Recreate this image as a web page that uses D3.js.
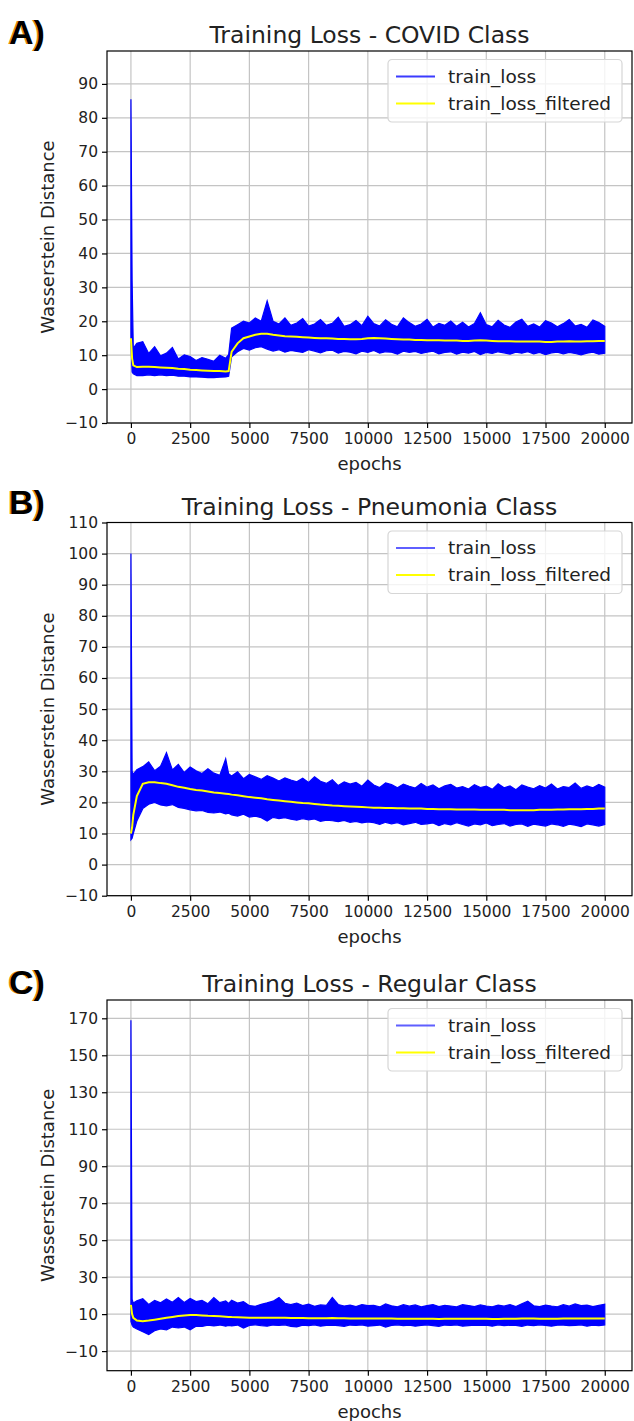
<!DOCTYPE html>
<html>
<head>
<meta charset="utf-8">
<script src="https://cdn.jsdelivr.net/npm/d3@7"></script>
<style>
  body { margin: 0; background: #fff; }
  text { font-family: "DejaVu Sans", sans-serif; fill: #222; }
</style>
</head>
<body>
<svg id="chart"></svg>
<script>
// sampled epochs (envelope of the noisy loss + filtered value at each)
const epochs = [0, 50, 100, 250, 500, 750, 1000, 1250, 1500, 1750,
  2000, 2250, 2500, 2750, 3000, 3250, 3500, 3750, 4000, 4125,
  4250, 4500, 4750, 5000, 5250, 5500, 5750, 6000, 6250, 6500,
  6750, 7000, 7250, 7500, 7750, 8000, 8250, 8500, 8750, 9000,
  9250, 9500, 9750, 10000, 10250, 10500, 10750, 11000, 11250, 11500,
  11750, 12000, 12250, 12500, 12750, 13000, 13250, 13500, 13750, 14000,
  14250, 14500, 14750, 15000, 15250, 15500, 15750, 16000, 16250, 16500,
  16750, 17000, 17250, 17500, 17750, 18000, 18250, 18500, 18750, 19000,
  19250, 19500, 19750, 20000];

const covidUpper = [85.5, 32, 12, 13.5, 14, 10.5, 12.5, 9.8, 10.6, 12.3,
  8.9, 10.1, 9.6, 8.4, 9.3, 8.8, 8.2, 10, 9.1, 10.2,
  18, 19, 20, 19.5, 21, 20, 26, 20, 19.2, 21,
  18.8, 19.5, 20.8, 18.6, 19.2, 20.5, 18.8, 19.4, 21.2, 18.5,
  19, 20.2, 18.7, 21.5, 19.3, 18.6, 20.4, 19.1, 18.4, 21,
  19.6, 18.5, 19.2, 20.6, 18.3, 19.4, 18.8, 20.1, 18.5, 19.7,
  18.3, 19.3, 22.5, 19, 18.4, 20.3, 18.9, 18.2, 19.8, 20.6,
  18.5, 19.2, 18.3, 20.2, 19.5, 18.4, 19.3, 20.5, 18.6, 19.1,
  18.2, 20.4, 19.6, 18.5];
const covidLower = [14, 5, 4.5, 4, 4, 4.2, 4, 4.2, 4, 4.1,
  3.8, 3.8, 3.6, 3.6, 3.5, 3.4, 3.4, 3.5, 3.6, 3.8,
  9.5, 11, 12, 11.5, 12.2, 12.5, 11.8, 11.2, 11.6, 10.9,
  11.4, 11.1, 10.8, 11.6, 11.2, 10.7, 11.3, 11.5, 10.6, 11.1,
  10.9, 10.4, 11.2, 10.8, 11.4, 10.6, 11, 10.9, 10.3, 11.2,
  10.8, 11.1, 10.5, 10.9, 11.2, 10.4, 10.8, 11, 10.3, 10.9,
  10.6, 11.1, 10.2, 10.8, 10.5, 11, 10.7, 10.3, 10.9, 10.6,
  11, 10.4, 10.8, 10.2, 10.7, 10.9, 10.4, 10.8, 10.5, 10.1,
  10.6, 10.9, 10.3, 10.6];
const covidFiltered = [15, 9, 7, 6.5, 6.6, 6.6, 6.5, 6.4, 6.3, 6.2,
  6.0, 5.9, 5.7, 5.6, 5.5, 5.4, 5.3, 5.3, 5.2, 5.3,
  11, 13.5, 15, 15.5, 16, 16.3, 16.3, 16, 15.8, 15.6,
  15.5, 15.4, 15.3, 15.2, 15.1, 15, 15, 14.9, 14.8, 14.8,
  14.7, 14.7, 14.8, 15, 15.1, 15, 14.9, 14.8, 14.7, 14.6,
  14.6, 14.5, 14.5, 14.4, 14.4, 14.4, 14.3, 14.3, 14.3, 14.2,
  14.2, 14.3, 14.4, 14.3, 14.2, 14.1, 14.1, 14.1, 14.0, 14.0,
  14.0, 14.0, 14.0, 13.9, 13.9, 14.0, 14.0, 14.1, 14.0, 14.0,
  14.1, 14.1, 14.2, 14.2];

const pneuUpper = [100, 30, 29, 30.5, 31.5, 33, 30.2, 31.6, 36, 30.4,
  32.2, 29.6, 31.4, 30.2, 29.3, 30.8, 29.4, 28.7, 34, 29.2,
  28.5, 29.8, 27.6, 29, 28.2, 27.4, 28.6, 27.8, 26.9, 27.9,
  27.2, 26.6, 27.8, 26.4, 28.2, 26.8, 26.1, 27.3, 25.4, 26.6,
  25.9, 26.4, 25.2, 27.2, 25.6, 24.8, 26.3, 25.7, 24.7, 25.9,
  25.2, 24.6, 26.1, 24.9, 25.6, 24.4, 25.3, 25.8, 24.6, 25.1,
  24.3, 25.7, 24.8, 25.2, 24.2, 26, 24.7, 25.3, 24.1, 25.6,
  24.9, 24.4, 25.4, 24.6, 25.9, 24.3, 25.1, 24.8, 26.2, 24.5,
  25.3, 24.7, 25.8, 24.9];
const pneuLower = [8, 8.5, 10, 14, 18, 19.4, 20, 19.2, 18.9, 19.3,
  18.4, 18.1, 17.6, 17.3, 17.4, 16.8, 16.6, 16.9, 16.3, 16.5,
  16, 15.6, 16.2, 15.3, 15.6, 15.1, 14, 15.2, 14.8, 15.1,
  14.6, 14.3, 14.8, 14.4, 14.7, 13.9, 14.3, 14.1, 13.8, 14.2,
  13.6, 13.9, 13.4, 13.7, 13.5, 12.9, 13.6, 13.1, 13.5, 12.8,
  13.2, 13.6, 12.9, 13.1, 13.4, 12.5, 13.2, 12.8, 13.5, 12.9,
  12.4, 13.1, 12.8, 13.4, 12.5, 12.9, 13.2, 12.4, 12.9, 13.1,
  12.3, 13, 12.7, 12.4, 13.1, 12.8, 12.3, 13, 12.7, 12.2,
  13.1, 12.8, 12.4, 12.9];
const pneuFiltered = [10, 12, 16, 22, 26, 26.5, 26.5, 26.2, 26, 25.5,
  25, 24.7, 24.3, 24, 23.8, 23.5, 23.2, 23, 22.8, 22.7,
  22.5, 22.3, 22, 21.7, 21.5, 21.3, 21, 20.8, 20.6, 20.4,
  20.2, 20, 19.8, 19.7, 19.5, 19.3, 19.2, 19, 18.9, 18.8,
  18.7, 18.6, 18.5, 18.4, 18.3, 18.3, 18.2, 18.2, 18.1, 18.1,
  18, 18, 18, 17.9, 17.9, 17.8, 17.8, 17.8, 17.7, 17.7,
  17.7, 17.7, 17.6, 17.6, 17.6, 17.6, 17.6, 17.5, 17.5, 17.5,
  17.5, 17.5, 17.6, 17.6, 17.6, 17.7, 17.7, 17.8, 17.8, 17.8,
  17.9, 17.9, 18, 18];

const regularUpper = [169, 18, 16, 17.2, 18.3, 15.2, 17.4, 16.1, 18.2, 16.4,
  19, 16.3, 18.5, 16.8, 17.4, 15.6, 18.9, 16.2, 17.1, 15.8,
  17.5, 16, 16.8, 14.6, 14.2, 15.3, 16.1, 17, 19, 15.9,
  15.1, 16, 14.6, 15.4, 14.2, 15, 14.7, 19, 15.2, 14.4,
  14.9, 14.1, 15.2, 14.6, 14.8, 13.9, 15.5, 14.5, 14, 15.1,
  14.3, 15, 13.9, 14.6, 15.2, 14.1, 14.8, 14.4, 13.9, 15.1,
  14.6, 14.1, 15, 14.4, 14, 14.9, 14.3, 15.2, 14.1, 15.6,
  17, 14.5, 14.1, 14.9, 14.4, 14, 15.1, 14.3, 15.5, 14.6,
  14.9, 14.1, 14.7, 15.3];
const regularLower = [6, 4, 3, 2, 0.5, -1, 1, 2, 1.5, 3,
  2.5, 3, 1.5, 3.5, 3.3, 4, 3.6, 4.1, 3.5, 3.9,
  3.6, 4.1, 2.5, 3.9, 4.2, 3.8, 3.5, 4.1, 3.9, 4.2,
  3.4, 3.1, 4, 3.8, 4.2, 3.5, 3.9, 4.1, 3.8, 3.4,
  4.1, 3.9, 4.2, 3.5, 3.8, 4.1, 3, 3.9, 4.2, 3.8,
  4, 3.5, 3.9, 4.2, 3.8, 3.4, 4.1, 3.9, 4.2, 3.5,
  3.8, 4.1, 3.9, 4, 3.5, 4.2, 3.8, 4, 3.9, 3.4,
  4.1, 3.8, 4.2, 3.9, 3.5, 4, 4.1, 3.8, 3.9, 4.2,
  3.5, 4, 3.8, 4.1];
const regularFiltered = [15, 10, 8, 6.5, 6.2, 6.5, 7, 7.5, 8, 8.5,
  9, 9.3, 9.5, 9.5, 9.3, 9.1, 9, 8.8, 8.6, 8.5,
  8.4, 8.3, 8.2, 8.1, 8, 8, 8, 8, 8, 8,
  7.9, 7.9, 7.9, 7.8, 7.8, 7.8, 7.8, 7.9, 7.8, 7.8,
  7.7, 7.7, 7.7, 7.6, 7.7, 7.6, 7.6, 7.6, 7.5, 7.5,
  7.5, 7.5, 7.5, 7.5, 7.5, 7.4, 7.5, 7.5, 7.5, 7.5,
  7.5, 7.5, 7.5, 7.5, 7.4, 7.4, 7.5, 7.5, 7.5, 7.6,
  7.6, 7.6, 7.5, 7.5, 7.5, 7.5, 7.6, 7.6, 7.6, 7.6,
  7.6, 7.6, 7.6, 7.6];

const xTicks = [0, 2500, 5000, 7500, 10000, 12500, 15000, 17500, 20000];
const covidTicks = [-10, 0, 10, 20, 30, 40, 50, 60, 70, 80, 90];
const pneuTicks = [-10, 0, 10, 20, 30, 40, 50, 60, 70, 80, 90, 100, 110];
const regularTicks = [-10, 10, 30, 50, 70, 90, 110, 130, 150, 170];
const titles = ["Training Loss - COVID Class", "Training Loss - Pneumonia Class", "Training Loss - Regular Class"];
const letters = ["A)", "B)", "C)"];
const seriesNames = ["train_loss", "train_loss_filtered"];

const svg = d3.select("#chart")
  .attr("width", 634)
  .attr("height", 1421);

const left = 107, right = 632;
const xDomain = [-1010, 21150];

const panels = [
  { top: 51, bottom: 423, ydom: [-10, 99.7], yticks: covidTicks,
    upper: covidUpper, lower: covidLower, filtered: covidFiltered, handle: "#3b3bff", letterY: 44 },
  { top: 522.5, bottom: 895.7, ydom: [-10, 110], yticks: pneuTicks,
    upper: pneuUpper, lower: pneuLower, filtered: pneuFiltered, handle: "#5f5fff", letterY: 514 },
  { top: 1000, bottom: 1370.7, ydom: [-20.6, 179.9], yticks: regularTicks,
    upper: regularUpper, lower: regularLower, filtered: regularFiltered, handle: "#5f5fff", letterY: 994 }
];

const fmt = d => d < 0 ? "\u2212" + Math.abs(d) : String(d);

panels.forEach((p, i) => {
  const x = d3.scaleLinear().domain(xDomain).range([left, right]);
  const y = d3.scaleLinear().domain(p.ydom).range([p.bottom, p.top]);
  const g = svg.append("g");

  // grid
  g.selectAll(".vgrid").data(xTicks).enter().append("line")
    .attr("x1", d => x(d)).attr("x2", d => x(d))
    .attr("y1", p.top).attr("y2", p.bottom)
    .attr("stroke", "#c4c4c4").attr("stroke-width", 1.2);
  g.selectAll(".hgrid").data(p.yticks).enter().append("line")
    .attr("x1", left).attr("x2", right)
    .attr("y1", d => y(d)).attr("y2", d => y(d))
    .attr("stroke", "#c4c4c4").attr("stroke-width", 1.2);

  const clipId = "clip" + i;
  g.append("clipPath").attr("id", clipId).append("rect")
    .attr("x", left).attr("y", p.top).attr("width", right - left).attr("height", p.bottom - p.top);

  const rows = epochs.map((e, k) => ({ e, hi: p.upper[k], lo: p.lower[k], f: p.filtered[k] }));
  const plot = g.append("g").attr("clip-path", `url(#${clipId})`);

  // noisy train_loss shown as its envelope
  plot.append("path")
    .datum(rows)
    .attr("d", d3.area().x(d => x(d.e)).y0(d => y(d.lo)).y1(d => y(d.hi)))
    .attr("fill", "#0000ff")
    .attr("stroke", "#0000ff")
    .attr("stroke-width", 1.2)
    .attr("stroke-linejoin", "miter");

  plot.append("path")
    .datum(rows)
    .attr("d", d3.line().x(d => x(d.e)).y(d => y(d.f)))
    .attr("fill", "none")
    .attr("stroke", "#ffff00")
    .attr("stroke-width", 2);

  // axes
  const xAxis = g.append("g")
    .attr("transform", `translate(0,${p.bottom})`)
    .call(d3.axisBottom(x).tickValues(xTicks).tickSize(5).tickPadding(5).tickFormat(fmt));
  const yAxis = g.append("g")
    .attr("transform", `translate(${left},0)`)
    .call(d3.axisLeft(y).tickValues(p.yticks).tickSize(5).tickPadding(4).tickFormat(fmt));
  [xAxis, yAxis].forEach(a => {
    a.select(".domain").remove();
    a.selectAll("line").attr("stroke", "#000").attr("stroke-width", 1.2);
    a.selectAll("text").style("font-size", "15.5px").style("font-family", "DejaVu Sans").attr("fill", "#222");
  });

  // spines
  g.append("rect")
    .attr("x", left).attr("y", p.top).attr("width", right - left).attr("height", p.bottom - p.top)
    .attr("fill", "none").attr("stroke", "#000").attr("stroke-width", 1.2);

  // labels
  g.append("text")
    .attr("x", (left + right) / 2).attr("y", p.top - 8)
    .attr("text-anchor", "middle").style("font-size", "23.5px")
    .text(titles[i]);
  g.append("text")
    .attr("x", (left + right) / 2).attr("y", p.bottom + 47)
    .attr("text-anchor", "middle").style("font-size", "18px")
    .text("epochs");
  g.append("text")
    .attr("transform", `translate(53.5,${(p.top + p.bottom) / 2}) rotate(-90)`)
    .attr("text-anchor", "middle").style("font-size", "18px")
    .text("Wasserstein Distance");

  // panel letter
  g.append("text")
    .attr("x", 7.5).attr("y", p.letterY)
    .style("font-family", "Liberation Sans").style("font-weight", "bold").style("font-size", "34px")
    .style("fill", "#e8900c")
    .text(letters[i]);
  g.append("text")
    .attr("x", 9).attr("y", p.letterY)
    .style("font-family", "Liberation Sans").style("font-weight", "bold").style("font-size", "34px")
    .style("fill", "#000")
    .text(letters[i]);

  // legend
  const lg = g.append("g").attr("transform", `translate(388,${p.top + 8.5})`);
  lg.append("rect")
    .attr("width", 234).attr("height", 62.5).attr("rx", 4)
    .attr("fill", "#fff").attr("fill-opacity", 0.8)
    .attr("stroke", "#d6d6d6").attr("stroke-width", 1.2);
  const colors = [p.handle, "#ffff00"];
  seriesNames.forEach((name, k) => {
    const cy = 17 + k * 27;
    lg.append("line")
      .attr("x1", 8).attr("x2", 47).attr("y1", cy).attr("y2", cy)
      .attr("stroke", colors[k]).attr("stroke-width", 2);
    lg.append("text")
      .attr("x", 60).attr("y", cy).attr("dy", "0.35em")
      .style("font-size", "18.5px")
      .text(name);
  });
});
</script>
</body>
</html>
